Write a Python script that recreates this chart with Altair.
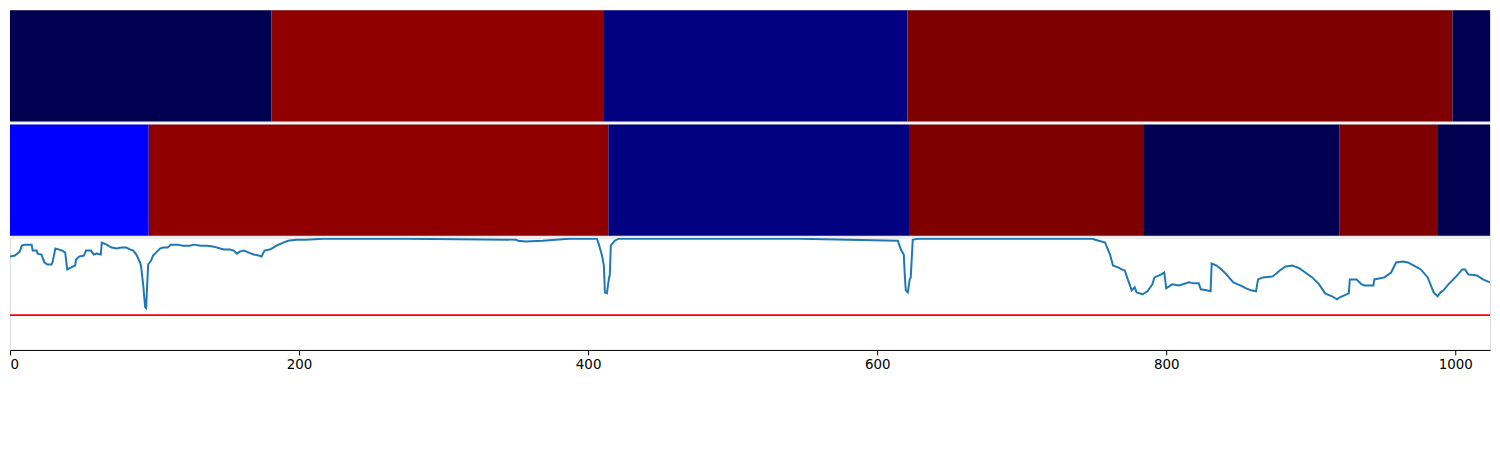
import altair as alt
import pandas as pd

# ---- data ----
X_MAX = 1024
x_ticks = [0, 200, 400, 600, 800, 1000]

# row 1 segments (boundaries in index units) and colour values (seismic scale 0..1)
row1_edges = [0, 181, 411, 621, 998, 1024]
row1_vals = [0.005, 0.967, 0.073, 1.0, 0.005]

# row 2 segments
row2_edges = [0, 96, 414, 622, 784, 920, 988, 1024]
row2_vals = [0.25, 0.967, 0.073, 1.0, 0.005, 1.0, 0.005]

# line series
line_x = [0.0, 3.4, 6.8, 8.2, 10.2, 15.0, 15.7, 18.4, 19.1, 21.8, 22.5, 23.9, 25.9, 28.7, 29.4,
          31.4, 34.1, 36.2, 38.2, 39.6, 42.3, 45.1, 45.7, 47.8, 51.2, 52.6, 56.0, 58.0, 60.1,
          62.8, 63.5, 66.9, 70.3, 73.7, 77.1, 80.5, 83.3, 85.3, 87.4, 90.1, 90.8, 92.2, 93.5,
          94.2, 94.9, 95.6, 97.6, 99.0, 101.0, 103.8, 105.8, 109.2, 111.3, 116.0, 119.5, 124.2,
          127.6, 131.7, 136.5, 141.3, 145.4, 148.1, 152.2, 154.9, 157.0, 159.0, 161.8, 165.2,
          168.6, 172.0, 174.1, 175.4, 176.1, 179.5, 182.3, 184.3, 189.1, 192.5, 198.0, 204.8,
          216.4, 227.3, 273.0, 350.2, 351.5, 357.0, 368.6, 377.5, 387.0, 406.1, 407.5, 409.6,
          410.9, 411.6, 413.0, 414.3, 415.0, 415.7, 418.4, 421.2, 546.1, 614.3, 616.4, 618.4,
          619.1, 619.8, 621.2, 622.5, 623.2, 624.6, 628.0, 748.8, 750.9, 757.7, 761.1, 763.1,
          766.6, 769.3, 771.3, 773.4, 776.1, 778.2, 779.5, 783.6, 787.0, 790.4, 791.8, 796.6,
          798.6, 800.0, 804.1, 808.9, 815.7, 819.1, 822.5, 823.9, 828.0, 830.7, 831.4, 834.8,
          838.2, 841.6, 846.4, 851.2, 855.3, 858.7, 862.1, 863.5, 866.9, 873.7, 878.5, 882.6,
          887.4, 892.2, 896.2, 901.0, 905.8, 909.9, 914.7, 918.1, 920.1, 926.3, 927.0, 931.7,
          935.2, 937.2, 943.3, 944.0, 950.9, 955.6, 959.0, 963.8, 967.2, 971.3, 976.1, 980.9,
          985.0, 987.7, 989.8, 991.8, 995.2, 1000.0, 1004.8, 1006.8, 1008.9, 1015.0, 1019.1,
          1023.9]
line_y = [0.832, 0.841, 0.876, 0.929, 0.938, 0.938, 0.885, 0.885, 0.858, 0.850, 0.823, 0.779,
          0.761, 0.761, 0.779, 0.903, 0.894, 0.885, 0.867, 0.717, 0.735, 0.752, 0.805, 0.832,
          0.841, 0.885, 0.885, 0.850, 0.858, 0.850, 0.956, 0.938, 0.912, 0.903, 0.912, 0.912,
          0.894, 0.885, 0.850, 0.779, 0.735, 0.575, 0.381, 0.372, 0.575, 0.761, 0.796, 0.841,
          0.867, 0.903, 0.912, 0.912, 0.938, 0.938, 0.929, 0.929, 0.938, 0.929, 0.929, 0.920,
          0.903, 0.894, 0.894, 0.885, 0.858, 0.876, 0.885, 0.867, 0.850, 0.841, 0.832, 0.867,
          0.885, 0.894, 0.912, 0.929, 0.956, 0.973, 0.982, 0.982, 0.991, 0.991, 0.991, 0.982,
          0.973, 0.965, 0.973, 0.982, 0.991, 0.991, 0.938, 0.841, 0.752, 0.513, 0.504, 0.628,
          0.673, 0.929, 0.973, 0.991, 0.991, 0.973, 0.894, 0.850, 0.664, 0.531, 0.513, 0.628,
          0.646, 0.982, 0.991, 0.991, 0.982, 0.956, 0.850, 0.752, 0.735, 0.717, 0.708, 0.628,
          0.531, 0.558, 0.513, 0.496, 0.522, 0.584, 0.646, 0.673, 0.690, 0.549, 0.584, 0.575,
          0.602, 0.593, 0.593, 0.540, 0.531, 0.522, 0.770, 0.752, 0.717, 0.673, 0.602, 0.575,
          0.549, 0.531, 0.522, 0.628, 0.646, 0.655, 0.708, 0.743, 0.752, 0.726, 0.690, 0.646,
          0.584, 0.504, 0.478, 0.451, 0.469, 0.504, 0.628, 0.628, 0.584, 0.575, 0.575, 0.628,
          0.646, 0.690, 0.779, 0.788, 0.779, 0.752, 0.717, 0.646, 0.513, 0.478, 0.513, 0.531,
          0.584, 0.646, 0.717, 0.717, 0.673, 0.664, 0.628, 0.602]

threshold = [0.31]

# ---- chart ----
W = 1490
seismic_domain = [0, 0.25, 0.5, 0.75, 1.0]
seismic_range = ["#00004c", "#0000ff", "#ffffff", "#ff0000", "#7f0000"]

xscale = alt.Scale(domain=[0, X_MAX], nice=False, zero=False)
cscale = alt.Scale(domain=seismic_domain, range=seismic_range, interpolate="rgb")


def seg_df(edges, vals):
    return pd.DataFrame({"start": edges[:-1], "end": edges[1:], "v": vals})


def strip(edges, vals, h):
    return alt.Chart(seg_df(edges, vals)).mark_rect().encode(
        x=alt.X("start:Q", scale=xscale, axis=None),
        x2="end:Q",
        y=alt.value(0),
        y2=alt.value(h),
        color=alt.Color("v:Q", scale=cscale, legend=None),
    ).properties(width=W, height=h)


p1 = strip(row1_edges, row1_vals, 112)
p2 = strip(row2_edges, row2_vals, 112)

line_df = pd.DataFrame({"x": line_x, "y": line_y})
yscale = alt.Scale(domain=[0, 1], nice=False, zero=False)

line = alt.Chart(line_df).mark_line(color="#1f77b4", strokeWidth=2, clip=True).encode(
    x=alt.X("x:Q", scale=xscale,
            axis=alt.Axis(values=x_ticks, format="d", title=None, grid=False, labelFlush=True,
                          tickSize=5, tickColor="black", domainColor="black",
                          labelFont="DejaVu Sans", labelFontSize=13.5, labelColor="black",
                          labelPadding=3)),
    y=alt.Y("y:Q", scale=yscale, axis=None),
)
rule = alt.Chart(pd.DataFrame({"t": threshold})).mark_rule(color="red", strokeWidth=2).encode(
    y=alt.Y("t:Q", scale=yscale, axis=None)
)
p3 = alt.layer(rule, line).properties(width=W, height=113)

top = alt.vconcat(p1, p2, spacing=1)
chart = alt.vconcat(top, p3, spacing=0).properties(padding=0).configure_view(
    stroke="black", strokeWidth=1
).configure(background="white")

chart.save("out.html", embed_options={"renderer": "svg", "actions": False})
